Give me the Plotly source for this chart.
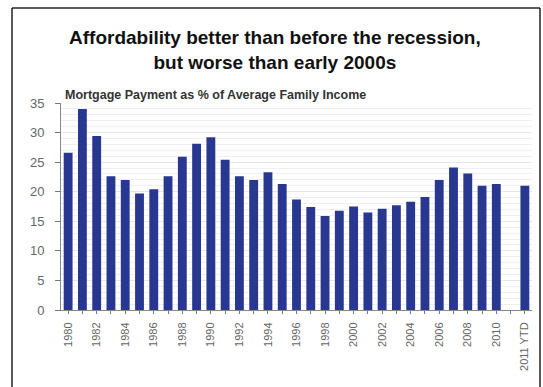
import plotly.graph_objects as go

categories = [str(y) for y in range(1980, 2011)] + [" ", "2011 YTD"]
values = [26.6, 34.0, 29.4, 22.6, 22.0, 19.7, 20.4, 22.6, 25.9, 28.1, 29.2, 25.4,
          22.6, 22.0, 23.3, 21.3, 18.7, 17.4, 15.9, 16.8, 17.5, 16.5, 17.1, 17.7,
          18.3, 19.1, 22.0, 24.1, 23.1, 21.0, 21.3, None, 21.0]
tick_labels = [c if (i % 2 == 0 and i <= 30) or c == "2011 YTD" else "" for i, c in enumerate(categories)]
y_ticks = [0, 5, 10, 15, 20, 25, 30, 35]

fig = go.Figure(go.Bar(x=categories, y=values, marker=dict(color="#28378f", line=dict(width=0)),
                       width=0.62))

fig.update_layout(
    width=543, height=387,
    margin=dict(l=61, r=11, t=103, b=77),
    paper_bgcolor="white", plot_bgcolor="white",
    showlegend=False,
    font=dict(family="Liberation Sans", color="#555"),
    annotations=[
        dict(text="<b>Affordability better than before the recession,<br>but worse than early 2000s</b>",
             xref="paper", yref="paper", x=0.455, y=1.0, yshift=78, xanchor="center", yanchor="top",
             showarrow=False, font=dict(family="Liberation Sans", size=19, color="#111")),
        dict(text="<b>Mortgage Payment as % of Average Family Income</b>",
             xref="paper", yref="paper", x=0.0, y=1.0, xshift=2, yshift=-1, xanchor="left", yanchor="bottom",
             showarrow=False, font=dict(family="Liberation Sans", size=12.5, color="#333")),
    ],
)

x_left = (12 - 61) / 471
x_right = (540 - 61) / 471
y_top = 1 + (103 - 8) / 207
y_bot = -((400 - 310) / 207)
frame = dict(color="#222", width=1.5)
fig.add_shape(type="line", xref="paper", yref="paper", x0=x_left, x1=x_left, y0=y_bot, y1=y_top, line=frame)
fig.add_shape(type="line", xref="paper", yref="paper", x0=x_right, x1=x_right, y0=y_bot, y1=y_top, line=frame)
fig.add_shape(type="line", xref="paper", yref="paper", x0=x_left, x1=x_right, y0=y_top, y1=y_top, line=frame)

fig.update_xaxes(
    type="category", categoryorder="array", categoryarray=categories,
    tickmode="array", tickvals=categories, ticktext=tick_labels,
    tickangle=-90, ticks="outside", ticklen=3, tickcolor="#777",
    showline=True, linecolor="#888", linewidth=1,
    tickfont=dict(size=11, color="#666", family="Liberation Sans"),
    ticklabelstandoff=4,
    range=[-0.5, 32.5], showgrid=False,
)
fig.update_yaxes(
    range=[0, 35], tickvals=y_ticks, ticks="outside", ticklen=5, tickcolor="#777",
    showline=True, linecolor="#888", linewidth=1,
    tickfont=dict(size=13, color="#666", family="Liberation Sans"),
    ticklabelstandoff=8,
    showgrid=True, gridcolor="#e6e6ee", gridwidth=1,
    minor=dict(dtick=1, showgrid=True, gridcolor="#eeeef4", gridwidth=1),
    zeroline=False,
)

fig.write_html("out.html")
